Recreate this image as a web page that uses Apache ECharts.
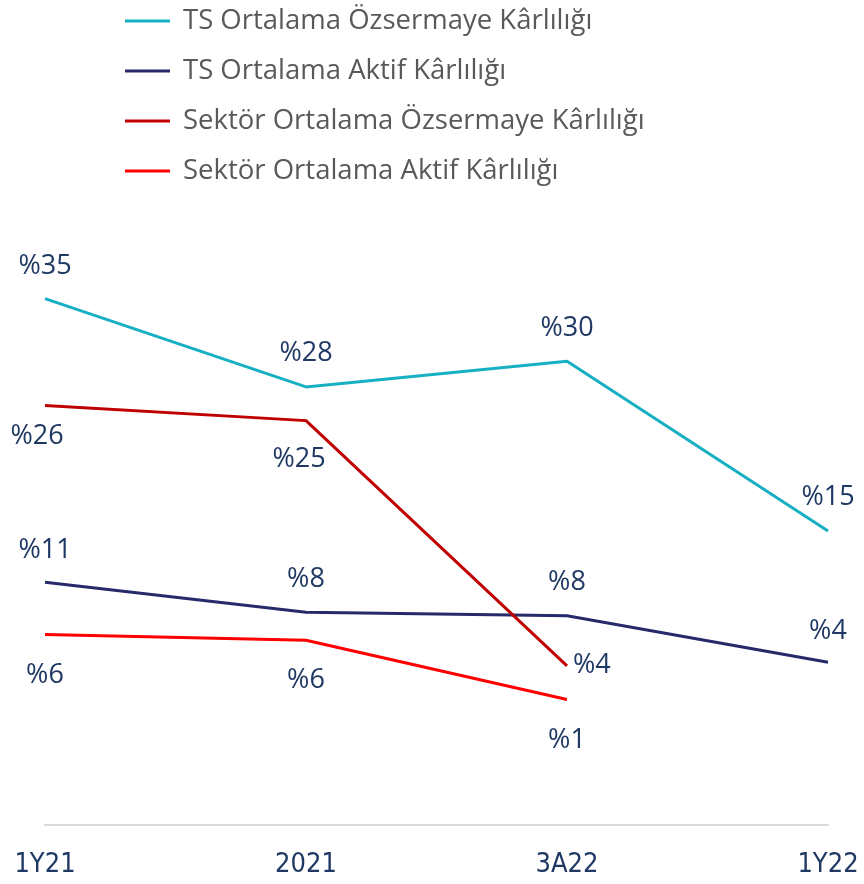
<!DOCTYPE html>
<html>
<head>
<meta charset="utf-8">
<script src="https://cdn.jsdelivr.net/npm/echarts@6/dist/echarts.min.js"></script>
<style>
  html, body { margin: 0; padding: 0; background: #fff; }
  #chart { width: 864px; height: 884px; }
</style>
</head>
<body>
<div id="chart"></div>
<script>
// kategori ekseni
const categories = ["1Y21", "2021", "3A22", "1Y22"];
// seri degerleri (%)
const tsOzsermaye = [35.3, 27.7, 29.9, 15.3];
const tsAktif = [10.9, 8.3, 8.0, 4.0];
const sektorOzsermaye = [26.1, 24.8, 3.7, null];
const sektorAktif = [6.4, 5.9, 0.8, null];

const seriesNames = [
  "TS Ortalama Özsermaye Kârlılığı",
  "TS Ortalama Aktif Kârlılığı",
  "Sektör Ortalama Özsermaye Kârlılığı",
  "Sektör Ortalama Aktif Kârlılığı"
];
const colors = ["#17b0c2", "#262a6b", "#c00000", "#ff0000"];

const labelColor = "#1f3864";
const labelFont = "'Open Sans', sans-serif";

// nokta etiketlerinin yerleşimi
function withLabels(values, placements) {
  return values.map(function (v, i) {
    if (v === null) return null;
    const p = placements[i];
    return {
      value: v,
      label: { position: p.pos, distance: p.d, offset: p.off || [0, 0] }
    };
  });
}

const chart = echarts.init(document.getElementById("chart"));

function lineSeries(name, color, data) {
  return {
    name: name,
    type: "line",
    data: data,
    symbol: "circle",
    symbolSize: 0,
    lineStyle: { color: color, width: 3 },
    itemStyle: { color: color },
    label: {
      show: true,
      color: labelColor,
      fontFamily: labelFont,
      fontSize: 27,
      formatter: function (p) { return "%" + Math.round(p.value); }
    },
    z: 2
  };
}

const option = {
  animation: false,
  legend: {
    orient: "vertical",
    left: 120,
    top: 0,
    icon: "rect",
    itemWidth: 45,
    itemHeight: 3,
    itemGap: 18,
    textStyle: {
      color: "#595959",
      fontFamily: labelFont,
      fontSize: 27.5,
      lineHeight: 32,
      padding: [0, 0, 0, 8]
    },
    data: seriesNames
  },
  grid: {
    left: 45,
    right: 36,
    top: 244,
    bottom: 59
  },
  xAxis: {
    type: "category",
    boundaryGap: false,
    data: categories,
    axisLine: { onZero: false, lineStyle: { color: "#d9d9d9", width: 2 } },
    axisTick: { show: false },
    axisLabel: {
      color: labelColor,
      fontFamily: "'Liberation Sans Narrow', 'DejaVu Sans Condensed', sans-serif",
      fontSize: 27,
      margin: 26
    }
  },
  yAxis: {
    type: "value",
    min: -10,
    max: 40,
    show: false,
    splitLine: { show: false }
  },
  series: [
    lineSeries(seriesNames[0], colors[0], withLabels(tsOzsermaye, [
      { pos: "top", d: 19 }, { pos: "top", d: 20 }, { pos: "top", d: 20 }, { pos: "top", d: 20 }
    ])),
    lineSeries(seriesNames[1], colors[1], withLabels(tsAktif, [
      { pos: "top", d: 18 }, { pos: "top", d: 20 }, { pos: "top", d: 20 }, { pos: "top", d: 18 }
    ])),
    lineSeries(seriesNames[2], colors[2], withLabels(sektorOzsermaye, [
      { pos: "bottom", d: 17, off: [-8, 0] }, { pos: "bottom", d: 25, off: [-7, 0] }, { pos: "right", d: 6 }, null
    ])),
    lineSeries(seriesNames[3], colors[3], withLabels(sektorAktif, [
      { pos: "bottom", d: 27 }, { pos: "bottom", d: 27 }, { pos: "bottom", d: 27 }, null
    ]))
  ]
};

chart.setOption(option);
</script>
</body>
</html>
